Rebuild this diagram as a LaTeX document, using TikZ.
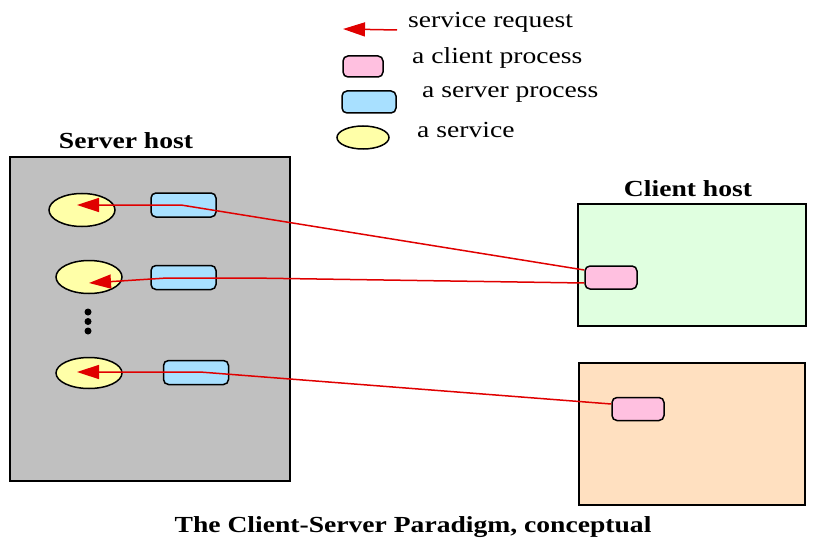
\documentclass[tikz,border=0pt]{standalone}
\usepackage{fontspec}
\setmainfont{Liberation Serif}[FakeStretch=1.2]
\usetikzlibrary{arrows.meta,shapes.geometric}
\definecolor{hostgray}{HTML}{C0C0C0}
\definecolor{svcyellow}{HTML}{FFFFA8}
\definecolor{srvblue}{HTML}{A8E0FF}
\definecolor{clipink}{HTML}{FFC0E0}
\definecolor{hostgreen}{HTML}{E0FFE0}
\definecolor{hostorange}{HTML}{FFE0C0}
\definecolor{reqred}{HTML}{E00000}
\tikzset{
  hostbox/.style={draw=black, line width=2pt, anchor=north west, inner sep=0pt},
  service/.style={ellipse, draw=black, line width=1.5pt, fill=svcyellow, inner sep=0pt, minimum width=66pt, minimum height=33pt},
  srvproc/.style={rectangle, rounded corners=5pt, draw=black, line width=1.5pt, fill=srvblue, inner sep=0pt, minimum width=65pt, minimum height=24pt},
  cliproc/.style={rectangle, rounded corners=5pt, draw=black, line width=1.5pt, fill=clipink, inner sep=0pt, minimum width=52pt, minimum height=23pt},
  request/.style={draw=reqred, line width=1.5pt, -{Triangle[length=22pt,width=14pt]}},
  legtext/.style={anchor=west, font=\fontsize{23}{26}\selectfont, inner sep=0pt},
  title/.style={font=\fontsize{23}{26}\selectfont\bfseries, inner sep=0pt},
  dot/.style={circle, fill=black, inner sep=0pt, minimum size=7pt}
}
\begin{document}
\begin{tikzpicture}[x=1pt, y=-1pt]
\useasboundingbox (0,0) rectangle (813,548);
% hosts
\node[hostbox, fill=hostgray, minimum width=280pt, minimum height=324pt] (server) at (9,156) {};
\node[hostbox, fill=hostgreen, minimum width=228pt, minimum height=122pt] (client1) at (577,203) {};
\node[hostbox, fill=hostorange, minimum width=226pt, minimum height=142pt] (client2) at (578,362) {};
\node[title] (serverlabel) at (126,141) {Server host};
\node[title] (clientlabel) at (688,189) {Client host};
\node[title] (caption) at (413,527) {The Client-Server Paradigm, conceptual};
% services
\node[service] (s1) at (82,210) {};
\node[service] (s2) at (89,277) {};
\node[service, minimum height=31pt] (s3) at (89,373) {};
% server processes
\node[srvproc] (p1) at (183.5,205) {};
\node[srvproc] (p2) at (183.5,277.5) {};
\node[srvproc] (p3) at (196,372.5) {};
% dots
\node[dot] (d1) at (88,312) {};
\node[dot] (d2) at (88,321.5) {};
\node[dot] (d3) at (88,331) {};
% client processes
\node[cliproc] (c1) at (611,277.5) {};
\node[cliproc] (c2) at (638,409) {};
% request paths
\coordinate (t1) at (77,205);
\coordinate (t2) at (89,283);
\coordinate (t3) at (77,372);
\draw[request] (c1.west |- 0,270) -- (181,205) -- (t1);
\draw[request] (c1.west |- 0,283) -- (250,278) -- (167,278) -- (t2);
\draw[request] (c2.west |- 0,404) -- (200,372) -- (t3);
% legend
\coordinate (la) at (397,30);
\coordinate (lb) at (343,29);
\draw[request] (la) -- (lb);
\node[legtext] (l1) at (408,22) {service request};
\node[cliproc, minimum width=40pt, minimum height=21pt] (lc) at (363,66.5) {};
\node[legtext] (l2) at (412,58) {a client process};
\node[srvproc, minimum width=54pt, minimum height=22pt] (ls) at (369,102) {};
\node[legtext] (l3) at (422,95) {a server process};
\node[service, minimum width=52pt, minimum height=23pt] (le) at (363,137.5) {};
\node[legtext] (l4) at (417,130) {a service};
\end{tikzpicture}
\end{document}
